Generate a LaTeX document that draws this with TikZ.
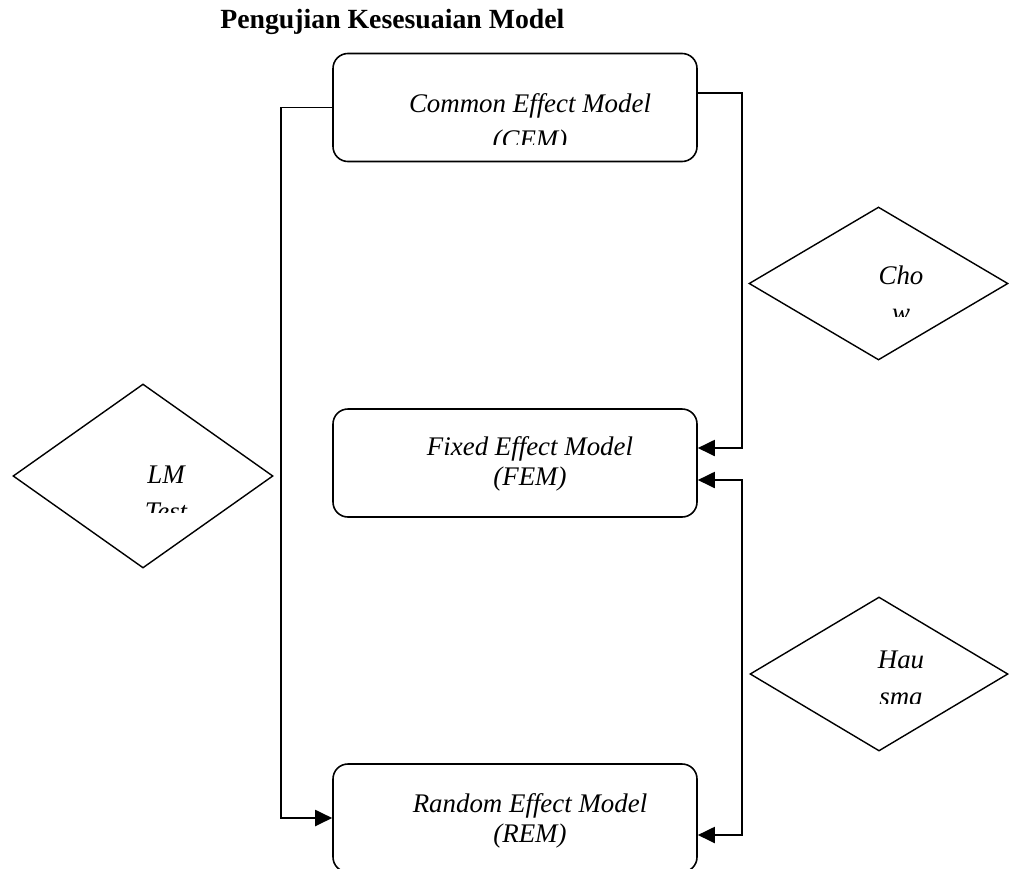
\documentclass[tikz,border=0pt]{standalone}
\usepackage{fontspec}
\setmainfont{Liberation Serif}
\usetikzlibrary{shapes.geometric, arrows.meta, positioning, calc}
\tikzset{
  model/.style    = {draw, rounded corners=8.5pt, minimum width=7.28cm, minimum height=2.16cm,
                     line width=0.9pt, inner sep=0pt},
  modeltxt/.style = {align=center, inner sep=0pt, anchor=base,
                     font=\fontsize{15.3}{17}\selectfont\itshape},
  test/.style     = {draw, diamond, line width=0.8pt, inner sep=0pt},
  testtxt/.style  = {align=center, inner sep=0pt, anchor=base,
                     font=\fontsize{15.3}{21}\selectfont\itshape},
  flow/.style     = {-{Triangle[length=3.4mm, width=3.2mm]}, line width=1.1pt},
  twoway/.style   = {{Triangle[length=3.4mm, width=3.2mm]}-{Triangle[length=3.4mm, width=3.2mm]},
                     line width=1.1pt}
}
\begin{document}
\begin{tikzpicture}
\useasboundingbox (0,0) rectangle (20.18,-17.38);
\node[anchor=base west, inner sep=0pt, font=\fontsize{15.8}{18}\selectfont\bfseries] (title)
  at (4.4,-0.57) {Pengujian Kesesuaian Model};
\node[model] (cem) at (10.3,-2.15) {};
\node[model] (fem) at (10.3,-9.26) {};
\node[model] (rem) at (10.3,-16.36) {};
\node[test, minimum width=5.18cm, minimum height=3.06cm] (chow) at (17.57,-5.67) {};
\node[test, minimum width=5.2cm, minimum height=3.68cm] (lm) at (2.86,-9.52) {};
\node[test, minimum width=5.16cm, minimum height=3.08cm] (haus) at (17.58,-13.48) {};
\begin{scope}
  \clip (6.7,-1.15) rectangle (13.9,-2.88);
  \node[modeltxt, font=\fontsize{15.3}{20}\selectfont\itshape] (cemtxt) at (10.6,-2.96)
    {Common Effect Model\\(CEM)};
\end{scope}
\node[modeltxt] (femtxt) at (10.6,-9.7) {Fixed Effect Model\\(FEM)};
\node[modeltxt] (remtxt) at (10.6,-16.84) {Random Effect Model\\(REM)};
\begin{scope}
  \clip (16.5,-4.5) rectangle (19.5,-6.32);
  \node[testtxt] (chowtxt) at (18.02,-6.42) {Cho\\w};
\end{scope}
\begin{scope}
  \clip (2.2,-8.6) rectangle (4.4,-10.24);
  \node[testtxt] (lmtxt) at (3.32,-10.4) {LM\\Test};
\end{scope}
\begin{scope}
  \clip (16.5,-12.4) rectangle (19.5,-14.06);
  \node[testtxt] (haustxt) at (18.02,-14.1) {Hau\\sma};
\end{scope}
\draw[flow] (cem.west) -- ++(-1.02,0) |- (rem.west);
\draw[flow] ($(cem.east)+(0,0.29)$) -- ++(0.88,0) |- ($(fem.east)+(0,0.3)$);
\draw[twoway] ($(fem.east)+(0,-0.34)$) -- ++(0.88,0) |- ($(rem.east)+(0,-0.34)$);
\end{tikzpicture}
\end{document}
